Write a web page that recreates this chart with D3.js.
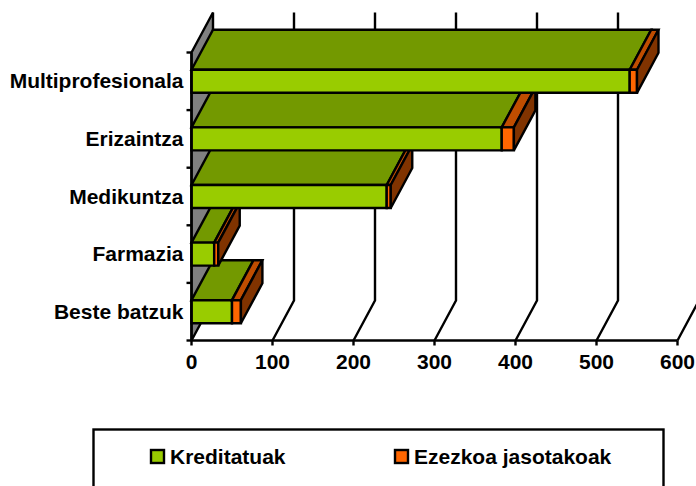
<!DOCTYPE html>
<html>
<head>
<meta charset="utf-8">
<script src="https://cdn.jsdelivr.net/npm/d3@7"></script>
<style>
    html, body { margin: 0; padding: 0; background: #fff; overflow: hidden; }
    svg { display: block; }
    text { font-family: "Liberation Sans", Arial, sans-serif; font-weight: bold; fill: #000; }
</style>
</head>
<body>
<svg class="chart" width="696" height="486"></svg>
<script>
// Top to bottom, as on the chart
const categories = ["Multiprofesionala", "Erizaintza", "Medikuntza", "Farmazia", "Beste batzuk"];
const kreditatuak = [541, 383, 241, 28, 50];
const ezezkoa = [9, 15, 5, 5, 11];
const xTicks = [0, 100, 200, 300, 400, 500, 600];
const seriesNames = ["Kreditatuak", "Ezezkoa jasotakoak"];

const svg = d3.select(".chart");

/// SETTINGS ///
const plot_left = 191.5, plot_right = 677.5, plot_bottom = 340.5, plot_top = 52.5;
const depth_x = 21.5, depth_y = -40; // how far the 3D floor goes back
const line_w = 2.4;
const font_size = 21;

const x_axis = d3.scaleLinear().domain([0, 600]).range([plot_left, plot_right]);
const y_axis = d3.scaleBand().domain(categories).range([plot_top, plot_bottom]).paddingInner(0.6).paddingOuter(0.3);

const colours = [
    { front: "#99cc00", top: "#739900", side: "#4d6600" },
    { front: "#ff6600", top: "#bf4d00", side: "#803300" }
];

const poly = pts => pts.map(p => p.join(",")).join(" ");

/// WALLS AND GRID ///
svg.append("polygon") // grey left wall
    .attr("points", poly([[plot_left, plot_top], [plot_left + depth_x, plot_top + depth_y], [plot_left + depth_x, plot_bottom + depth_y], [plot_left, plot_bottom]]))
    .attr("fill", "#808080")
    .attr("stroke", "#000")
    .attr("stroke-width", line_w);

// Grid lines run along the floor then up the back wall
svg.selectAll(".grid")
    .data(xTicks.slice(1))
    .enter()
    .append("polyline")
    .attr("class", "grid")
    .attr("points", d => poly([
        [x_axis(d), plot_bottom],
        [x_axis(d) + depth_x, plot_bottom + depth_y],
        [x_axis(d) + depth_x, plot_top + depth_y]
    ]))
    .attr("fill", "none")
    .attr("stroke", "#000")
    .attr("stroke-width", line_w);

/// BARS ///
// Lowest bar first so the upper bars cover the tops behind them
const rows = categories.map((c, i) => ({ c, a: kreditatuak[i], b: ezezkoa[i] })).reverse();

rows.forEach(r => {
    const y0 = y_axis(r.c), y1 = y0 + y_axis.bandwidth();
    const segments = [[0, r.a, colours[0]], [r.a, r.a + r.b, colours[1]]];
    const g = svg.append("g").attr("stroke", "#000").attr("stroke-width", line_w).attr("stroke-linejoin", "miter");

    segments.forEach(([from, to, col]) => {
        const xa = x_axis(from), xb = x_axis(to);
        g.append("polygon") // top face
            .attr("points", poly([[xa, y0], [xa + depth_x, y0 + depth_y], [xb + depth_x, y0 + depth_y], [xb, y0]]))
            .attr("fill", col.top);
        g.append("polygon") // front face
            .attr("points", poly([[xa, y0], [xb, y0], [xb, y1], [xa, y1]]))
            .attr("fill", col.front);
    });

    const end = x_axis(r.a + r.b);
    g.append("polygon") // side face, only the outer one shows
        .attr("points", poly([[end, y0], [end + depth_x, y0 + depth_y], [end + depth_x, y1 + depth_y], [end, y1]]))
        .attr("fill", colours[1].side);
});

/// AXES ///
const axisLines = svg.append("g").attr("stroke", "#000").attr("stroke-width", line_w);

axisLines.append("line") // y axis
    .attr("x1", plot_left).attr("x2", plot_left)
    .attr("y1", plot_top).attr("y2", plot_bottom);
axisLines.append("line") // x axis
    .attr("x1", plot_left).attr("x2", plot_right)
    .attr("y1", plot_bottom).attr("y2", plot_bottom);

// Category ticks sit between the bars
const yStep = y_axis.step();
d3.range(categories.length + 1).forEach(i => {
    axisLines.append("line")
        .attr("x1", plot_left - 5).attr("x2", plot_left)
        .attr("y1", plot_top + i * yStep).attr("y2", plot_top + i * yStep);
});

axisLines.selectAll(".xtick")
    .data(xTicks)
    .enter()
    .append("line")
    .attr("class", "xtick")
    .attr("x1", d => x_axis(d)).attr("x2", d => x_axis(d))
    .attr("y1", plot_bottom).attr("y2", plot_bottom + 5);

svg.selectAll(".xlabel")
    .data(xTicks)
    .enter()
    .append("text")
    .attr("class", "xlabel")
    .attr("x", d => x_axis(d))
    .attr("y", 369)
    .attr("text-anchor", "middle")
    .attr("font-size", font_size)
    .text(d => d);

svg.selectAll(".ylabel")
    .data(categories)
    .enter()
    .append("text")
    .attr("class", "ylabel")
    .attr("x", plot_left - 8)
    .attr("y", d => y_axis(d) + y_axis.bandwidth() / 2 + 7)
    .attr("text-anchor", "end")
    .attr("font-size", font_size)
    .text(d => d);

/// LEGEND ///
svg.append("rect") // runs off the bottom of the page
    .attr("x", 93.5).attr("y", 429.5)
    .attr("width", 570).attr("height", 80)
    .attr("fill", "#fff")
    .attr("stroke", "#000")
    .attr("stroke-width", line_w);

const legendX = [151, 395];
seriesNames.forEach((name, i) => {
    svg.append("rect")
        .attr("x", legendX[i]).attr("y", 450)
        .attr("width", 13).attr("height", 13)
        .attr("fill", colours[i].front)
        .attr("stroke", "#000")
        .attr("stroke-width", line_w);
    svg.append("text")
        .attr("x", legendX[i] + 19).attr("y", 464)
        .attr("font-size", font_size)
        .text(name);
});
</script>
</body>
</html>
